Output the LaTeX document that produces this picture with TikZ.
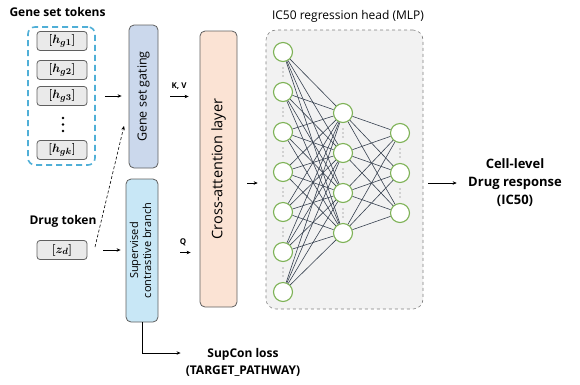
\documentclass[tikz,border=0pt]{standalone}
\usepackage{amsmath,amssymb}
\usepackage{fontspec}
\setmainfont{Open Sans}
\usepackage{graphicx}
\usetikzlibrary{arrows.meta,positioning,calc}

\definecolor{groupblue}{RGB}{80,175,215}
\definecolor{tokenfill}{RGB}{234,234,234}
\definecolor{boxline}{RGB}{95,95,95}
\definecolor{gatefill}{RGB}{203,216,236}
\definecolor{supfill}{RGB}{200,231,246}
\definecolor{attnfill}{RGB}{251,227,212}
\definecolor{mlpfill}{RGB}{242,242,242}
\definecolor{neurongreen}{RGB}{125,178,85}
\definecolor{synapsegray}{RGB}{55,65,80}

\newcommand{\toklabel}[1]{{\mathversion{bold}$[#1]$}}

\tikzset{
  arr/.style={-{Stealth[length=4pt,width=3.5pt]}, line width=0.7pt},
  tokenbox/.style={draw=boxline, fill=tokenfill, rounded corners=3pt, line width=0.8pt,
    minimum width=50pt, minimum height=19pt, inner sep=0pt, font=\fontsize{12.5}{14}\selectfont},
  genegroup/.style={draw=groupblue, line width=1.6pt, dash pattern=on 6pt off 4pt, rounded corners=7pt},
  blockbox/.style={draw=boxline, rounded corners=5pt, line width=0.8pt, inner sep=0pt},
  neuron/.style={circle, draw=neurongreen, fill=white, line width=1.1pt, minimum size=19pt, inner sep=0pt},
  synapse/.style={synapsegray, line width=0.6pt},
}

\begin{document}
\begin{tikzpicture}[x=1pt,y=-1pt]
    \useasboundingbox (0,0) rectangle (580,384);

    % Gene set tokens
    \node[font=\bfseries\fontsize{12}{14}\selectfont, anchor=west] (genetitle) at (6,12) {Gene set tokens};
    \node[genegroup, minimum width=67pt, minimum height=138pt] (genebox) at (61.5,96) {};
    \node[tokenbox] (hg1) at (62,41) {\toklabel{h_{g1}}};
    \node[tokenbox] (hg2) at (62,70) {\toklabel{h_{g2}}};
    \node[tokenbox] (hg3) at (62,96) {\toklabel{h_{g3}}};
    \node[tokenbox] (hgk) at (62,150) {\toklabel{h_{gk}}};
    \foreach \y in {118,124.5,131}
        \fill (63,\y) circle (1.4pt);

    % Drug token
    \node[font=\bfseries\fontsize{12}{14}\selectfont] (drugtitle) at (63,221) {Drug token};
    \node[tokenbox] (zd) at (62,250) {\toklabel{z_{d}}};

    % Gating and contrastive branch
    \node[blockbox, fill=gatefill, minimum width=29pt, minimum height=143pt] (gating) at (143.5,96.5)
        {\rotatebox{90}{\fontsize{12.5}{15}\selectfont Gene set gating}};
    \node[blockbox, fill=supfill, minimum width=32pt, minimum height=143pt] (supcon) at (142,250.5)
        {\rotatebox{90}{\fontsize{11}{13}\selectfont\begin{tabular}{@{}c@{}}Supervised\\contrastive branch\end{tabular}}};

    % Cross-attention
    \node[blockbox, fill=attnfill, minimum width=37pt, minimum height=276pt] (crossatt) at (218.5,169)
        {\rotatebox{90}{\fontsize{14.5}{17}\selectfont Cross-attention layer}};

    % MLP head
    \node[draw=gray, fill=mlpfill, dashed, rounded corners=10pt, line width=0.6pt,
        minimum width=157pt, minimum height=279pt] (mlp) at (344.5,169.5) {};
    \node[font=\fontsize{12}{14}\selectfont] (mlptitle) at (348,16) {IC50 regression head (MLP)};

    \foreach \i in {1,...,7}
        \node[neuron] (a\i) at (283,12+40*\i) {};
    \foreach \i in {1,...,4}
        \node[neuron] (b\i) at (343,73+40*\i) {};
    \foreach \i in {1,...,3}
        \node[neuron] (c\i) at (400,93+40*\i) {};

    \foreach \i in {1,...,7}
        \foreach \j in {1,...,4}
            \draw[synapse] (a\i) -- (b\j);
    \foreach \j in {1,...,4}
        \foreach \k in {1,...,3}
            \draw[synapse] (b\j) -- (c\k);

    % vertical dots between neurons
    \foreach \i in {1,...,6}
        \foreach \d in {-4,0,4}
            \fill[gray!80!black] (283,32+40*\i+\d) circle (0.7pt);
    \foreach \i in {1,...,3}
        \foreach \d in {-4,0,4}
            \fill[gray!80!black] (343,93+40*\i+\d) circle (0.7pt);
    \foreach \i in {1,...,2}
        \foreach \d in {-4,0,4}
            \fill[gray!80!black] (400,113+40*\i+\d) circle (0.7pt);

    % Output
    \node[font=\bfseries\fontsize{13}{18}\selectfont, align=center] (response) at (515,183)
        {Cell-level\\Drug response\\(IC50)};
    \node[font=\bfseries\fontsize{12}{17}\selectfont, align=center, inner sep=0pt] (suploss) at (243,362)
        {SupCon loss\\(TARGET\_PATHWAY)};

    % Connectors
    \coordinate (dashstart) at (95,247);
    \coordinate (dashend) at (124,126);
    \draw[arr, shorten <=9pt, shorten >=7pt] (genebox.east) -- (gating.west |- genebox.east);
    \draw[arr, shorten <=16pt, shorten >=5pt] (zd.east) -- (supcon.west |- zd.east);
    \draw[arr, densely dashed, line width=0.6pt] (dashstart) -- (dashend);
    \draw[arr, shorten <=12pt, shorten >=11pt] (gating.east) -- (gating.east -| crossatt.west)
        node[midway, above=3pt, font=\bfseries\fontsize{8}{9}\selectfont] {K, V};
    \draw[arr, shorten <=22pt, shorten >=9pt] ([yshift=-2pt]supcon.east) -- ([yshift=-2pt]supcon.east -| crossatt.west)
        node[pos=0.6, above=3pt, font=\bfseries\fontsize{8}{9}\selectfont] {Q};
    \draw[arr, shorten <=10pt, shorten >=8pt] ([yshift=-14pt]crossatt.east) -- ([yshift=-14pt]crossatt.east -| mlp.west);
    \draw[arr, shorten <=5pt, shorten >=8pt] (mlp.east |- response.west) -- (response.west);
    \draw[arr, shorten >=5pt] (supcon.south) |- ([yshift=9pt]suploss.west);
\end{tikzpicture}
\end{document}
